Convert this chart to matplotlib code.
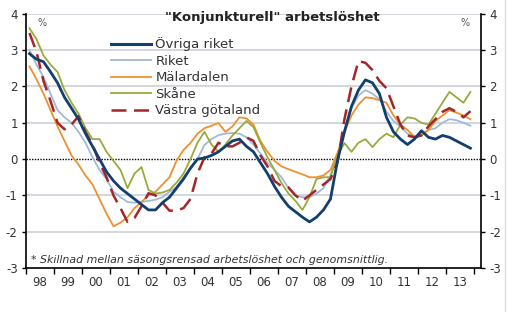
import numpy as np
import matplotlib.pyplot as plt
from matplotlib.lines import Line2D

# Kvartalsdata 1998K1 - 2013K4, avvikelse i procentenheter
t = 1998.125 + 0.25 * np.arange(64)

ovriga = [2.9, 2.75, 2.68, 2.4, 2.1, 1.7, 1.4, 1.1, 0.7, 0.35,
          0.0, -0.35, -0.6, -0.8, -0.95, -1.1, -1.25, -1.4, -1.4, -1.2,
          -1.05, -0.8, -0.55, -0.25, 0.0, 0.03, 0.1, 0.2, 0.35, 0.5,
          0.55, 0.35, 0.2, -0.1, -0.4, -0.75, -1.05, -1.3, -1.45, -1.6,
          -1.73, -1.6, -1.4, -1.1, -0.05, 0.75, 1.45, 1.9, 2.18, 2.1,
          1.8, 1.15, 0.75, 0.55, 0.4, 0.55, 0.78, 0.6, 0.55, 0.65,
          0.6, 0.5, 0.4, 0.3]
riket = [3.0, 2.6, 2.26, 1.8, 1.35, 1.15, 1.0, 0.75, 0.45, 0.05,
         -0.3, -0.55, -0.9, -1.05, -1.18, -1.2, -1.18, -1.15, -1.12, -1.05,
         -0.9, -0.77, -0.5, -0.25, 0.0, 0.39, 0.55, 0.66, 0.7, 0.72,
         0.7, 0.6, 0.4, 0.15, -0.1, -0.3, -0.5, -0.8, -1.0, -1.05,
         -1.05, -0.95, -0.8, -0.45, 0.1, 0.8, 1.4, 1.75, 1.9, 1.8,
         1.65, 1.3, 1.05, 0.9, 0.7, 0.62, 0.7, 0.8, 0.85, 1.0,
         1.1, 1.07, 1.0, 0.92]
malardalen = [2.55, 2.2, 1.8, 1.35, 0.9, 0.5, 0.1, -0.15, -0.45, -0.7,
              -1.1, -1.5, -1.85, -1.75, -1.6, -1.35, -1.18, -1.0, -0.9, -0.7,
              -0.5, -0.05, 0.25, 0.44, 0.7, 0.85, 0.92, 0.99, 0.75, 0.9,
              1.15, 1.12, 0.95, 0.5, 0.2, -0.05, -0.2, -0.28, -0.35, -0.42,
              -0.5, -0.5, -0.45, -0.3, 0.17, 0.75, 1.2, 1.5, 1.7, 1.68,
              1.62, 1.55, 1.2, 0.95, 0.8, 0.62, 0.65, 0.8, 1.05, 1.2,
              1.35, 1.28, 1.2, 1.1]
skane = [3.6, 3.3, 2.85, 2.6, 2.4, 1.9, 1.55, 1.25, 0.85, 0.55,
         0.55, 0.2, -0.05, -0.3, -0.8, -0.4, -0.22, -0.85, -0.95, -0.92,
         -0.85, -0.65, -0.4, 0.0, 0.45, 0.75, 0.4, 0.2, 0.4, 0.65,
         0.85, 1.05, 0.88, 0.45, 0.05, -0.3, -0.66, -0.95, -1.15, -1.4,
         -1.05, -0.55, -0.5, -0.5, 0.1, 0.44, 0.2, 0.45, 0.55, 0.33,
         0.55, 0.7, 0.6, 0.95, 1.15, 1.12, 1.0, 0.95, 1.25, 1.55,
         1.85, 1.7, 1.55, 1.85]
vastra = [3.47, 2.95, 2.15, 1.6, 1.0, 0.82, 0.95, 1.18, 0.75, 0.4,
          -0.1, -0.5, -1.0, -1.35, -1.73, -1.62, -1.3, -0.94, -1.0, -1.2,
          -1.42, -1.42, -1.35, -1.1, -0.4, 0.05, 0.15, 0.45, 0.35, 0.35,
          0.45, 0.6, 0.5, 0.1, -0.2, -0.6, -0.75, -0.78, -1.0, -1.15,
          -1.0, -0.85, -0.7, -0.55, -0.1, 1.1, 2.0, 2.7, 2.65, 2.45,
          2.15, 1.95, 1.45, 0.95, 0.65, 0.6, 0.65, 0.9, 1.1, 1.3,
          1.4, 1.3, 1.15, 1.32]

years = np.arange(1998, 2014)
year_labels = ['98', '99', '00', '01', '02', '03', '04', '05', '06', '07',
               '08', '09', '10', '11', '12', '13']

plt.rcParams['font.family'] = ['DejaVu Sans']
fig = plt.figure(figsize=(5.1, 3.21), dpi=100)
ax = fig.add_axes([0.051, 0.165, 0.892, 0.792])

c_ovr = '#123f6e'
c_rik = '#9fbad8'
c_mal = '#ef9030'
c_ska = '#9aaa3a'
c_vas = '#a3262b'

# Stödlinjer
for v in [-2, -1, 1, 2, 3, 4]:
    ax.axhline(v, color='#d3d6dd', lw=1.4, zorder=0)
ax.axhline(0, color='black', lw=1.0, ls=(0, (1, 1)), zorder=1)

ax.plot(t, riket, color=c_rik, lw=1.3, zorder=2)
ax.plot(t, malardalen, color=c_mal, lw=1.3, zorder=2)
ax.plot(t, skane, color=c_ska, lw=1.3, zorder=2)
ax.plot(t, vastra, color=c_vas, lw=1.8, ls=(0, (6, 3)), zorder=3)
ax.plot(t, ovriga, color=c_ovr, lw=2.0, zorder=4)

ax.set_xlim(1998, 2014.25)
ax.set_ylim(-3, 4)

ax.set_xticks(list(years) + [2014])
ax.set_xticks(years + 0.5, minor=True)
ax.set_xticklabels([])
ax.set_xticklabels(year_labels, minor=True)
ax.tick_params(axis='x', which='major', direction='out', length=4, width=1)
ax.tick_params(axis='x', which='minor', length=0, pad=6, labelsize=8.5,
               labelcolor='#333333')

ax.set_yticks(range(-3, 5))
ax.set_yticklabels([str(v) for v in range(-3, 5)])
ax.tick_params(axis='y', direction='out', length=3, width=1, labelsize=8.5,
               labelcolor='#333333', right=True, labelright=True, pad=3)

for s in ['left', 'right', 'bottom']:
    ax.spines[s].set_linewidth(1.2)
ax.spines['top'].set_visible(False)

ax.text(0.025, 0.985, '%', transform=ax.transAxes, fontsize=7,
        color='#555555', va='top', ha='left')
ax.text(0.975, 0.985, '%', transform=ax.transAxes, fontsize=7,
        color='#555555', va='top', ha='right')

fig.text(0.533, 0.945, '"Konjunkturell" arbetslöshet', fontsize=9.5,
         fontweight='bold', ha='center', va='center', color='#222222')

handles = [Line2D([], [], color=c_ovr, lw=2.2),
           Line2D([], [], color=c_rik, lw=1.3),
           Line2D([], [], color=c_mal, lw=1.3),
           Line2D([], [], color=c_ska, lw=1.3),
           Line2D([], [], color=c_vas, lw=1.8, ls=(0, (6, 3)))]
labels = ['Övriga riket', 'Riket', 'Mälardalen', 'Skåne', 'Västra götaland']
leg = fig.legend(handles, labels, loc='upper left',
                 bbox_to_anchor=(0.218, 0.884), frameon=False, fontsize=9.5,
                 handlelength=3.0, handletextpad=0.35, labelspacing=0.27,
                 borderpad=0, borderaxespad=0)
for txt in leg.get_texts():
    txt.set_color('#333333')

ax.text(0.012, 0.012,
        '* Skillnad mellan säsongsrensad arbetslöshet och genomsnittlig.',
        transform=ax.transAxes, fontsize=7.9, style='italic',
        color='#333333', va='bottom', ha='left')

# Ram till höger
fig.add_artist(Line2D([0.99, 0.99], [0.03, 1.0], transform=fig.transFigure,
                      color='#dddddd', lw=1))

fig.savefig('out.png', dpi=100)
